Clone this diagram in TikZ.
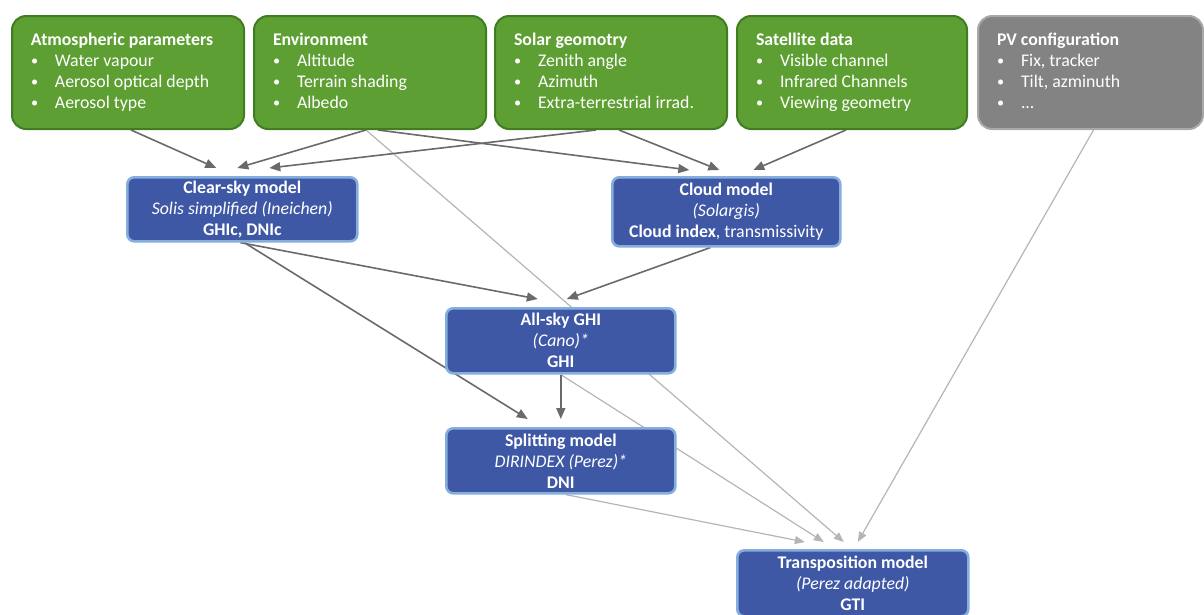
\documentclass[tikz,border=0pt]{standalone}
\usepackage{fontspec}
\setmainfont{Carlito}
\usetikzlibrary{arrows.meta,backgrounds}
\definecolor{grfill}{HTML}{5E9F33}
\definecolor{grline}{HTML}{3F7C22}
\definecolor{gyfill}{HTML}{838383}
\definecolor{gyline}{HTML}{A9A9A9}
\definecolor{blfill}{HTML}{3F58A6}
\definecolor{blline}{HTML}{86AEDD}
\definecolor{darkarr}{HTML}{6A6A6A}
\definecolor{lightarr}{HTML}{B5B5B5}
\newcommand{\bitem}[1]{\\\makebox[24pt][l]{\raisebox{0.1ex}{\scalebox{0.8}{\textbullet}}}#1}
\tikzset{
  inbox/.style={draw=grline, fill=grfill, line width=2pt, rounded corners=14pt,
    text=white, align=left, anchor=north west, inner sep=0pt,
    font=\fontsize{17.8}{21}\selectfont},
  pvbox/.style={inbox, draw=gyline, fill=gyfill},
  modbox/.style={draw=blline, fill=blfill, line width=2.6pt, rounded corners=7pt,
    text=white, align=center, anchor=north west, inner sep=0pt,
    font=\fontsize{17.8}{21}\selectfont},
  darkedge/.style={draw=darkarr, line width=1.6pt, -{Triangle[length=11pt,width=9pt]}},
  lightedge/.style={draw=lightarr, line width=1.2pt, -{Triangle[length=10pt,width=8pt]}},
}
\begin{document}
\begin{tikzpicture}[x=1pt,y=-1pt]
\useasboundingbox (0,0) rectangle (1204,614);
\clip (0,0) rectangle (1204,614);
% input boxes
\node[inbox, minimum width=232pt, minimum height=113pt] (atm) at (11,15)
  {\begin{minipage}[t][113pt][c]{232pt}\hspace*{19pt}\begin{tabular}[t]{@{}l@{}}\textbf{Atmospheric  parameters}\bitem{Water vapour}\bitem{Aerosol optical depth}\bitem{Aerosol type}\end{tabular}\end{minipage}};
\node[inbox, minimum width=232pt, minimum height=113pt] (env) at (253,15)
  {\begin{minipage}[t][113pt][c]{232pt}\hspace*{19pt}\begin{tabular}[t]{@{}l@{}}\textbf{Environment}\bitem{Altitude}\bitem{Terrain shading}\bitem{Albedo}\end{tabular}\end{minipage}};
\node[inbox, minimum width=232pt, minimum height=113pt] (sol) at (494,15)
  {\begin{minipage}[t][113pt][c]{232pt}\hspace*{19pt}\begin{tabular}[t]{@{}l@{}}\textbf{Solar geomotry}\bitem{Zenith angle}\bitem{Azimuth}\bitem{Extra-terrestrial irrad.}\end{tabular}\end{minipage}};
\node[inbox, minimum width=230pt, minimum height=113pt] (sat) at (736,15)
  {\begin{minipage}[t][113pt][c]{230pt}\hspace*{19pt}\begin{tabular}[t]{@{}l@{}}\textbf{Satellite data}\bitem{Visible channel}\bitem{Infrared Channels}\bitem{Viewing geometry}\end{tabular}\end{minipage}};
\node[pvbox, minimum width=225pt, minimum height=113pt] (pv) at (977,15)
  {\begin{minipage}[t][113pt][c]{225pt}\hspace*{19pt}\begin{tabular}[t]{@{}l@{}}\textbf{PV configuration}\bitem{Fix, tracker}\bitem{Tilt, azminuth}\bitem{...}\end{tabular}\end{minipage}};
% model boxes
\node[modbox, minimum width=230pt, minimum height=64pt] (clr) at (126,176)
  {\textbf{Clear-sky model}\\\textit{Solis simplified (Ineichen)}\\\textbf{GHIc, DNIc}};
\node[modbox, minimum width=228pt, minimum height=69pt] (cld) at (611,176)
  {\textbf{Cloud model}\\\textit{(Solargis)}\\\textbf{Cloud index}, transmissivity};
\node[modbox, minimum width=229pt, minimum height=65pt] (ghi) at (445,307)
  {\textbf{All-sky GHI}\\\textit{(Cano)*}\\\textbf{GHI}};
\node[modbox, minimum width=229pt, minimum height=65pt] (spl) at (445,427)
  {\textbf{Splitting model}\\\textit{DIRINDEX (Perez)*}\\\textbf{DNI}};
\node[modbox, minimum width=231pt, minimum height=66pt] (trn) at (736,549)
  {\textbf{Transposition model}\\\textit{(Perez adapted)}\\\textbf{GTI}};
% connectors
\begin{scope}[on background layer]
\draw[lightedge] ([xshift=-4pt]env.south) -- ([xshift=-9pt,yshift=7pt]trn.north);
\draw[lightedge] (ghi.south) -- ([xshift=-29pt,yshift=7pt]trn.north);
\draw[lightedge] ([xshift=5pt]spl.south) -- ([xshift=-48pt,yshift=7pt]trn.north);
\draw[lightedge] ([xshift=3pt]pv.south) -- ([xshift=5pt,yshift=7pt]trn.north);
\draw[darkedge] ([xshift=3pt]atm.south) -- ([xshift=-26pt,yshift=8pt]clr.north);
\draw[darkedge] ([xshift=-4pt]env.south) -- ([xshift=-5pt,yshift=8pt]clr.north);
\draw[darkedge] ([xshift=-15pt]sol.south) -- ([xshift=27pt,yshift=8pt]clr.north);
\draw[darkedge] ([xshift=8pt]env.south) -- ([xshift=-37pt,yshift=6pt]cld.north);
\draw[darkedge] ([xshift=8pt]sol.south) -- ([xshift=-7pt,yshift=6pt]cld.north);
\draw[darkedge] ([xshift=-6pt]sat.south) -- ([xshift=27pt,yshift=6pt]cld.north);
\draw[darkedge] ([xshift=-2pt]clr.south) -- ([xshift=-23pt,yshift=8pt]ghi.north);
\draw[darkedge] ([xshift=-16pt]cld.south) -- ([xshift=6pt,yshift=8pt]ghi.north);
\draw[darkedge] ([xshift=2pt]clr.south) -- ([xshift=-33pt,yshift=8pt]spl.north);
\draw[darkedge] (ghi.south) -- ([yshift=8pt]spl.north);
\end{scope}
\end{tikzpicture}
\end{document}
